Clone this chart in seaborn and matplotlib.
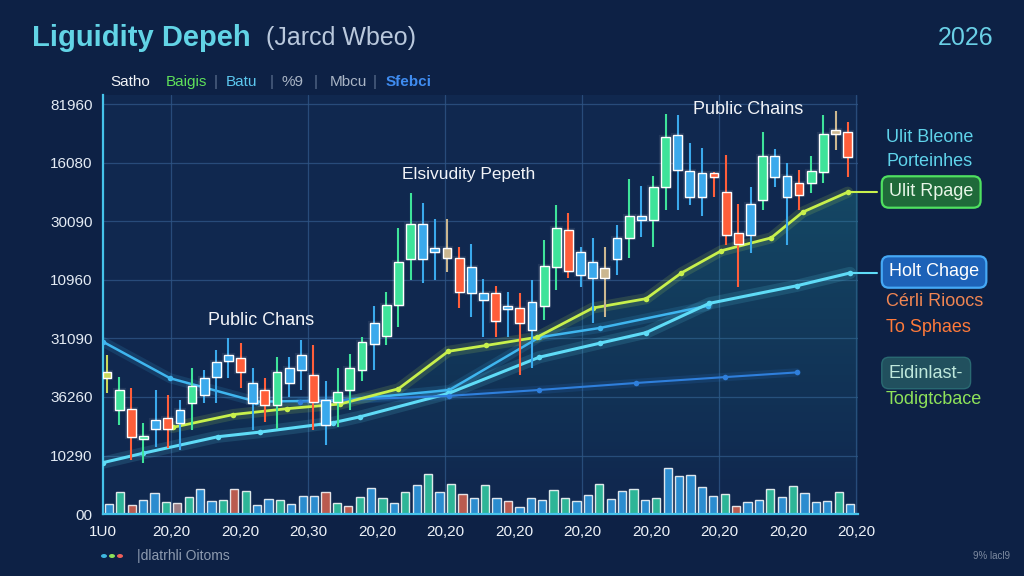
import numpy as np
import pandas as pd
import seaborn as sns
import matplotlib.pyplot as plt
import matplotlib.patheffects as pe
from matplotlib.colors import LinearSegmentedColormap

# candlesticks, values in thousands (high, body top, body bottom, low)
c_high = [13.6, 11.7, 10.8, 7.8, 10.6, 10.2, 9.7, 12.5, 12.3, 14.0, 15.0, 14.6, 12.5, 11.6, 13.4, 13.4,
          14.9, 14.4, 11.4, 12.5, 13.7, 15.1, 17.8, 19.0, 24.4, 27.4, 26.6, 25.2, 25.2, 22.8, 23.1, 20.1,
          19.5, 19.0, 18.9, 20.0, 23.4, 26.4, 25.7, 22.8, 23.6, 22.8, 24.7, 28.6, 28.0, 28.9, 34.2, 34.1,
          31.7, 31.3, 29.2, 30.7, 26.5, 27.9, 32.6, 31.2, 30.0, 29.4, 30.6, 34.1, 34.4, 33.5]
c_top = [12.1, 10.6, 9.0, 6.7, 8.0, 8.2, 8.9, 10.9, 11.6, 13.0, 13.6, 13.3, 11.2, 10.6, 12.1, 12.5,
         13.6, 11.9, 9.7, 10.4, 12.5, 14.7, 16.3, 17.9, 21.5, 24.8, 24.8, 22.7, 22.7, 21.9, 21.1, 18.9,
         18.9, 17.8, 17.6, 18.1, 21.2, 24.4, 24.3, 22.4, 21.5, 21.0, 23.6, 25.5, 25.5, 27.9, 32.2, 32.4,
         29.3, 29.1, 29.1, 27.5, 24.0, 26.5, 30.6, 30.6, 28.9, 28.3, 29.3, 32.5, 32.8, 32.6]
c_bot = [11.6, 8.9, 6.6, 6.4, 7.3, 7.3, 7.8, 9.5, 10.2, 11.7, 13.1, 12.1, 9.5, 9.3, 9.3, 11.2,
         12.3, 9.6, 7.6, 9.6, 10.6, 12.3, 14.5, 15.2, 17.9, 21.8, 21.8, 22.4, 21.9, 19.0, 18.9, 18.3,
         16.5, 17.5, 16.3, 15.7, 17.8, 21.1, 20.8, 20.4, 20.2, 20.2, 21.8, 23.6, 25.1, 25.1, 27.9, 29.4,
         27.1, 27.1, 28.8, 23.8, 23.1, 23.8, 26.8, 28.8, 27.1, 27.3, 28.3, 29.2, 32.5, 30.5]
c_low = [10.3, 7.6, 4.6, 4.4, 5.7, 5.6, 5.5, 7.2, 9.5, 9.5, 11.6, 10.8, 7.2, 7.9, 7.3, 10.0,
         10.6, 7.2, 5.9, 7.4, 8.9, 11.4, 12.3, 14.4, 16.0, 20.0, 19.7, 20.0, 20.7, 17.6, 16.8, 15.1,
         15.1, 15.1, 11.9, 12.5, 16.6, 19.1, 20.2, 19.4, 16.3, 16.8, 20.4, 21.9, 23.7, 22.8, 26.0, 26.0,
         26.4, 25.5, 27.1, 23.0, 19.4, 22.3, 26.0, 27.9, 23.0, 26.0, 27.4, 28.3, 31.1, 28.8]
c_kind = list("ygrgbrbgbbbrbrgbbrbg" "ggbgggbbtrbbrbrbggrbbtbgbggbbbrrrbgbbrggtr")

# volume bars, thousands
vol = [0.85, 1.88, 0.74, 1.20, 1.77, 1.00, 0.97, 1.42, 2.14, 1.08, 1.17, 2.11, 1.94, 0.74, 1.31, 1.23,
       0.83, 1.54, 1.54, 1.91, 0.94, 0.71, 1.42, 2.25, 1.34, 0.91, 1.91, 2.51, 3.42, 1.85, 2.54, 1.74,
       1.37, 2.51, 1.37, 1.08, 0.57, 1.40, 1.17, 2.05, 1.37, 1.11, 1.62, 2.56, 1.28, 1.94, 2.11, 1.23,
       1.34, 3.96, 3.22, 3.36, 2.28, 1.57, 1.68, 0.71, 1.03, 1.20, 2.17, 1.48, 2.42, 1.77, 1.00, 1.14,
       1.88, 0.85]
vol_kind = list("bgrbbgtgbbgrgbbgbbbrgrgbgbgbgbgrbgbrbbbggbbgbbgbgbbbbbgrbbgbgbbbgb")

# trend lines (x in candle index, y in thousands)
yel_x = [5.4, 10.4, 14.8, 19.2, 24.0, 28.1, 31.2, 35.4, 40.0, 44.4, 47.3, 50.6, 54.7, 57.3, 61.0]
yel_y = [7.4, 8.5, 9.0, 9.4, 10.7, 13.9, 14.4, 15.1, 17.6, 18.4, 20.6, 22.5, 23.6, 25.8, 27.5]
cya_x = [-0.3, 3.0, 9.1, 12.6, 18.6, 20.8, 28.1, 35.6, 40.6, 44.4, 49.6, 56.8, 61.2]
cya_y = [4.4, 5.2, 6.6, 7.0, 7.8, 8.3, 10.3, 13.4, 14.6, 15.5, 18.0, 19.5, 20.6]
blu_x = [-0.3, 5.2, 12.3, 19.2, 28.2, 35.6, 40.6, 49.5]
blu_y = [14.7, 11.6, 9.6, 9.7, 10.6, 15.1, 15.9, 17.8]
dkb_x = [15.9, 28.2, 35.6, 43.6, 50.9, 56.8]
dkb_y = [9.6, 10.1, 10.6, 11.2, 11.7, 12.1]

x_labels = ["1U0", "20,20", "20,20", "20,30", "20,20", "20,20", "20,20", "20,20", "20,20", "20,20", "20,20", "20,20"]
y_labels = ["00", "10290", "36260", "31090", "10960", "30090", "16080", "81960"]

BG = "#0d2145"
AX_BG = "#10284f"
candle_col = {"g": "#3ee39a", "b": "#3aa9ec", "r": "#ff5e3a", "t": "#cbb790", "y": "#c9d85a"}
vol_col = {"g": "#33cfa4", "b": "#2f9ee6", "r": "#d9654f", "t": "#b58d8f"}

sns.set_theme(style="dark")
plt.rcParams['font.family'] = ['Liberation Sans', 'DejaVu Sans']

fig = plt.figure(figsize=(10.24, 5.76), dpi=100, facecolor=BG)
ax = fig.add_axes([0.1006, 0.1076, 0.7373, 0.7274])
ax.set_facecolor(AX_BG)

xmin, xmax = -0.33, 61.85
ymax = 35.8
xt = np.linspace(xmin, xmin + 11 * 5.64, 12)

for v in np.arange(5, 36, 5):
    ax.axhline(v, color="#2f5585", lw=0.9, alpha=0.8, zorder=0)
for v in xt[1::2]:
    ax.axvline(v, color="#2f5585", lw=0.9, alpha=0.8, zorder=0)

for s in ["top", "right"]:
    ax.spines[s].set_visible(False)
for s in ["left", "bottom"]:
    ax.spines[s].set_color("#45c3ea")
    ax.spines[s].set_linewidth(1.6)

# soft fading area under the main trend
area = ax.fill_between(yel_x + [xmax], yel_y + [yel_y[-1]], 0, color="none", lw=0)
fade = LinearSegmentedColormap.from_list("fade", [(0.12, 0.55, 0.58, 0.0), (0.12, 0.55, 0.58, 0.32)])
grad = np.linspace(0, 1, 256).reshape(-1, 1)
img = ax.imshow(grad, cmap=fade, aspect="auto", origin="lower",
                extent=[xmin, xmax, 2.0, 28.0], zorder=1)
img.set_clip_path(area.get_paths()[0], transform=ax.transData)

# volume
idx = np.arange(len(c_high))
vx = np.linspace(0.15, 61.2, len(vol))
ax.bar(vx, vol, width=0.68, color=[vol_col[k] for k in vol_kind], alpha=0.85, zorder=2)

# lines with glow
lines = pd.concat([
    pd.DataFrame({"x": yel_x, "y": yel_y, "s": "yel"}),
    pd.DataFrame({"x": cya_x, "y": cya_y, "s": "cya"}),
    pd.DataFrame({"x": blu_x, "y": blu_y, "s": "blu"}),
    pd.DataFrame({"x": dkb_x, "y": dkb_y, "s": "dkb"}),
])
pal = {"yel": "#c8f04c", "cya": "#5fdcf7", "blu": "#3fb6ef", "dkb": "#2f7fdc"}
widths = {"yel": 2.0, "cya": 2.2, "blu": 1.8, "dkb": 1.5}
for name, g in lines.groupby("s"):
    sns.lineplot(data=g, x="x", y="y", color=pal[name], lw=widths[name] * 4, alpha=0.14, ax=ax, zorder=3)
    sns.lineplot(data=g, x="x", y="y", color=pal[name], lw=widths[name], marker="o", markersize=4,
                 markeredgewidth=0, ax=ax, zorder=4)

# candles
cols = [candle_col[k] for k in c_kind]
ax.vlines(idx, c_low, c_high, colors=cols, lw=1.5, zorder=5)
body = np.maximum(np.array(c_top) - np.array(c_bot), 0.25)
ax.bar(idx, body, bottom=c_bot, width=0.72, color=cols, zorder=6,
       path_effects=[pe.withStroke(linewidth=3, foreground="#ffffff", alpha=0.08)])

ax.set_xlabel("")
ax.set_ylabel("")
ax.set_xlim(xmin, xmax)
ax.set_ylim(0, ymax)
ax.set_xticks(xt)
ax.set_xticklabels(x_labels)
ax.set_yticks(np.arange(0, 36, 5))
ax.set_yticklabels(y_labels)
ax.tick_params(colors="#dfe7f2", labelsize=11, length=4, width=1)
ax.tick_params(axis="x", colors="#3fb8e0", labelcolor="#eef2f8", pad=4)
ax.tick_params(axis="y", colors="#3fb8e0", labelcolor="#e4ebf4")

# connectors to right-hand boxes
ax.plot([yel_x[-1], 63.4], [yel_y[-1], yel_y[-1]], color="#c8f04c", lw=1.5, clip_on=False, zorder=4)
ax.plot([cya_x[-1], 63.4], [cya_y[-1], cya_y[-1]], color="#5fdcf7", lw=1.5, clip_on=False, zorder=4)

# in-chart annotations
ax.text(12.7, 16.5, "Public Chans", color="#f2f4f8", fontsize=13, ha="center", va="center")
ax.text(29.8, 29.0, "Elsivudity Pepeth", color="#f2f4f8", fontsize=12.5, ha="center", va="center")
ax.text(52.8, 34.6, "Public Chains", color="#f2f4f8", fontsize=13, ha="center", va="center")

def ft(x, y, s, **kw):
    fig.text(x / 1024, 1 - y / 576, s, **kw)

ft(32, 38, "Liguidity Depeh", color="#62d4e6", fontsize=21, weight="bold", va="center")
ft(266, 38, "(Jarcd Wbeo)", color="#b9c8dc", fontsize=18, va="center")
ft(993, 38, "2026", color="#6ad0e6", fontsize=18, ha="right", va="center")

leg = [("Satho", "#f2f4f8"), ("Baigis", "#5ee05a"), ("|", "#5a6f8e"), ("Batu", "#5cc7ee"), ("|", "#5a6f8e"),
       ("%9", "#aab5c5"), ("|", "#5a6f8e"), ("Mbcu", "#aab5c5"), ("|", "#5a6f8e"), ("Sfebci", "#3f8cf0")]
lx = [110, 166, 214, 226, 270, 282, 314, 330, 373, 386]
for (s, c), x in zip(leg, lx):
    ft(x, 82, s, color=c, fontsize=11, va="center", weight="bold" if s == "Sfebci" else "normal")

# right side labels
ft(886, 137, "Ulit Bleone", color="#5fd3ea", fontsize=13, va="center")
ft(886, 161, "Porteinhes", color="#5fd3ea", fontsize=13, va="center")
ft(889, 192, "Ulit Rpage", color="#e8f6e8", fontsize=13, va="center",
   bbox=dict(boxstyle="round,pad=0.4", fc="#1f6a3a", ec="#4fe060", lw=1.6))
ft(889, 272, "Holt Chage", color="#ffffff", fontsize=13, va="center",
   bbox=dict(boxstyle="round,pad=0.4", fc="#1d62b8", ec="#45a8f5", lw=1.6))
ft(886, 302, "Cérli Rioocs", color="#f08552", fontsize=13, va="center")
ft(886, 327, "To Sphaes", color="#ff7a3a", fontsize=13, va="center")
ft(889, 373, "Eidinlast-", color="#bfe8dc", fontsize=13, va="center",
   bbox=dict(boxstyle="round,pad=0.4", fc="#21505e", ec="#2a6a72", lw=1.0))
ft(886, 400, "Todigtcbace", color="#8ee25a", fontsize=13, va="center")

# footer
for x, c in [(104, "#3fb8e0"), (112, "#8ee25a"), (120, "#f0605a")]:
    fig.patches.append(plt.Circle((x / 1024, 1 - 556 / 576), 0.0022, color=c, transform=fig.transFigure))
ft(137, 556, "|dlatrhli Oitoms", color="#8e9bb0", fontsize=10, va="center")
ft(1010, 556, "9% lacl9", color="#7d8aa0", fontsize=7, ha="right", va="center")

plt.savefig("out.png", dpi=100, facecolor=BG)
plt.close()
